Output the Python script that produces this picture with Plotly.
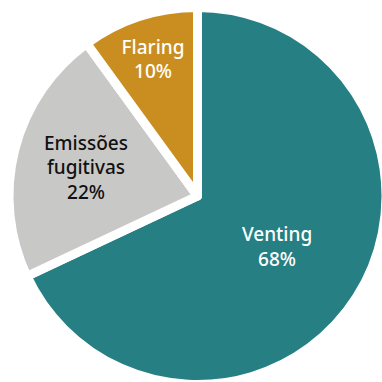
import plotly.graph_objects as go

# Share of emissions by source
labels = ["Venting", "Emissões<br>fugitivas", "Flaring"]
values = [68, 22, 10]
colors = ["#267f83", "#c8c8c7", "#c98e1f"]
text_colors = ["#ffffff", "#111111", "#ffffff"]

W, H = 386, 386

fig = go.Figure(
    go.Pie(
        labels=labels,
        values=values,
        sort=False,
        direction="clockwise",
        rotation=0,
        marker=dict(colors=colors, line=dict(color="#ffffff", width=9)),
        texttemplate="%{label}<br>%{percent:.0%}",
        textposition="inside",
        insidetextorientation="horizontal",
        insidetextfont=dict(family="Noto Sans", size=19, weight=500, color=text_colors),
        hoverinfo="skip",
        showlegend=False,
        domain=dict(x=[9 / W, 1], y=[1.5 / H, (H - 7.5) / H]),
    )
)

fig.update_layout(
    width=W,
    height=H,
    margin=dict(l=0, r=0, t=0, b=0),
    paper_bgcolor="#ffffff",
    plot_bgcolor="#ffffff",
    uniformtext=dict(minsize=19, mode="show"),
)

fig.write_html(
    "out.html",
    post_script=(
        "document.documentElement.style.overflow='hidden';"
        "document.body.style.overflow='hidden';"
        "document.body.style.margin='0';"
    ),
)
